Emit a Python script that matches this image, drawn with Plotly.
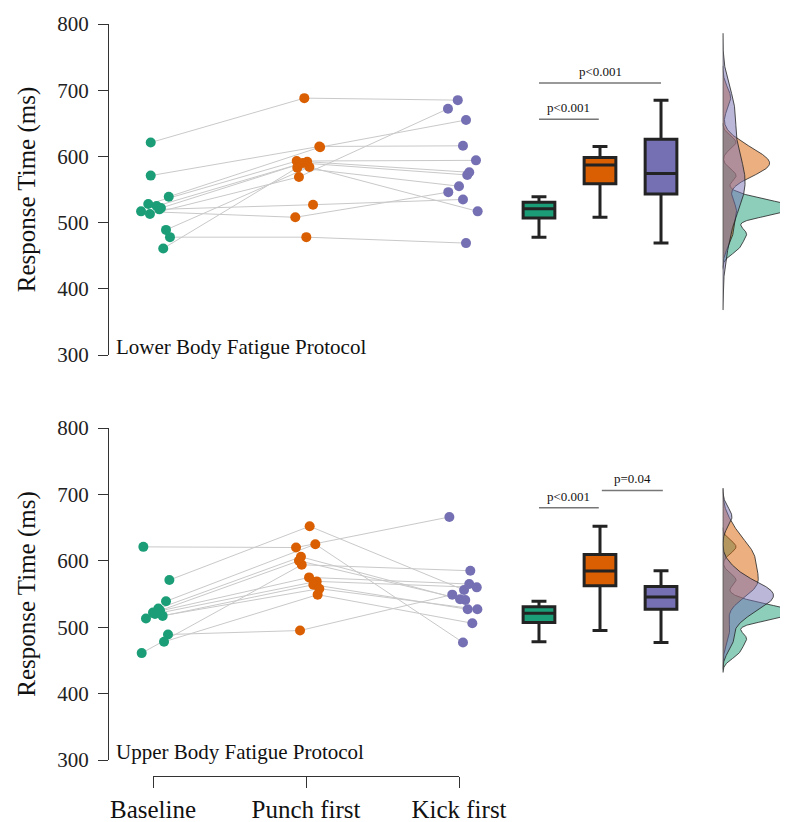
import numpy as np
import plotly.graph_objects as go

# ---------------- data ----------------
conditions = ["Baseline", "Punch first", "Kick first"]
colors = ["#1b9e77", "#d95f02", "#7570b3"]
fills = ["rgba(27,158,119,0.5)", "rgba(217,95,2,0.5)", "rgba(117,112,179,0.5)"]

# Lower body fatigue protocol (one value per participant, same order)
lower_baseline = [621, 571, 539, 528, 525, 522, 520, 517, 513, 489, 478, 461]
lower_punch = [688, 615, 614, 593, 592, 590, 527, 508, 569, 584, 478, 583]
lower_kick = [685, 616, 655, 594, 576, 572, 535, 546, 672, 517, 469, 555]
lower_jit_b = [-0.015, -0.015, 0.103, -0.031, 0.024, 0.052, 0.041, -0.078, -0.020, 0.085, 0.111, 0.067]
lower_jit_p = [-0.011, 0.087, 0.092, -0.061, 0.008, -0.020, 0.046, -0.070, -0.046, 0.022, 0.002, -0.057]
lower_jit_k = [-0.008, 0.026, 0.046, 0.111, 0.067, 0.054, 0.026, -0.070, -0.072, 0.122, 0.046, 0.0]

# Upper body fatigue protocol
upper_baseline = [621, 571, 539, 528, 525, 522, 520, 517, 513, 489, 478, 461]
upper_punch = [620, 652, 625, 606, 600, 575, 569, 564, 558, 495, 549, 594]
upper_kick = [666, 556, 477, 542, 541, 565, 560, 527, 527, 549, 506, 585]
upper_jit_b = [-0.063, 0.107, 0.085, 0.035, 0.046, 0.0, 0.013, 0.063, -0.046, 0.098, 0.072, -0.074]
upper_jit_p = [-0.065, 0.024, 0.061, -0.033, -0.046, 0.020, 0.070, 0.048, 0.087, -0.039, 0.076, -0.028]
upper_jit_k = [-0.063, 0.033, 0.026, 0.007, 0.041, 0.067, 0.116, 0.057, 0.120, -0.044, 0.087, 0.074]

y_ticks = [300, 400, 500, 600, 700, 800]
panel_titles = ["Lower Body Fatigue Protocol", "Upper Body Fatigue Protocol"]
lower_pvals = [("p<0.001", 0, 0.98, 656), ("p<0.001", 0, 2, 711)]
upper_pvals = [("p<0.001", 0, 0.98, 680), ("p=0.04", 1.03, 2.03, 706)]

# ---------------- helpers ----------------
PAGE_OFF = 8            # default body margin of the html page
W, H = 788 - PAGE_OFF, 822 - PAGE_OFF
FONT = "Liberation Serif"


def px_x(p):
    return (p - PAGE_OFF) / W


def px_y(p):
    return (H - (p - PAGE_OFF)) / H


def tukey(vals):
    v = np.sort(np.asarray(vals, float))
    q1, med, q3 = np.percentile(v, [25, 50, 75])
    iqr = q3 - q1
    lo = v[v >= q1 - 1.5 * iqr].min()
    hi = v[v <= q3 + 1.5 * iqr].max()
    return q1, med, q3, lo, hi


def bw_nrd0(vals):
    v = np.asarray(vals, float)
    q1, q3 = np.percentile(v, [25, 75])
    s = min(v.std(ddof=1), (q3 - q1) / 1.34)
    return 0.9 * s * len(v) ** (-0.2)


def kde(vals):
    v = np.asarray(vals, float)
    bw = bw_nrd0(v)
    grid = np.linspace(v.min() - 3 * bw, v.max() + 3 * bw, 512)
    d = np.exp(-0.5 * ((grid[:, None] - v[None, :]) / bw) ** 2).sum(1)
    d /= len(v) * bw * np.sqrt(2 * np.pi)
    return grid, d


fig = go.Figure()

panels = [
    dict(groups=[lower_baseline, lower_punch, lower_kick],
         jit=[lower_jit_b, lower_jit_p, lower_jit_k],
         xs="x", ys="y", xb="x3", xd="x5", pv=lower_pvals),
    dict(groups=[upper_baseline, upper_punch, upper_kick],
         jit=[upper_jit_b, upper_jit_p, upper_jit_k],
         xs="x2", ys="y2", xb="x4", xd="x6", pv=upper_pvals),
]

for P in panels:
    g = P["groups"]
    j = P["jit"]
    # connecting lines
    lx, ly = [], []
    for i in range(len(g[0])):
        for c in range(3):
            lx.append(c + j[c][i])
            ly.append(g[c][i])
        lx.append(None)
        ly.append(None)
    fig.add_trace(go.Scatter(x=lx, y=ly, mode="lines", xaxis=P["xs"], yaxis=P["ys"],
                             line=dict(color="#c9c9c9", width=1), hoverinfo="skip"))
    for c in range(3):
        fig.add_trace(go.Scatter(x=[c + d for d in j[c]], y=g[c], mode="markers",
                                 xaxis=P["xs"], yaxis=P["ys"],
                                 marker=dict(color=colors[c], size=10, line=dict(width=0))))
    # boxes
    for c in range(3):
        q1, med, q3, lo, hi = tukey(g[c])
        fig.add_trace(go.Box(x=[c], q1=[q1], median=[med], q3=[q3], lowerfence=[lo], upperfence=[hi],
                             xaxis=P["xb"], yaxis=P["ys"], width=0.52, whiskerwidth=0.47,
                             fillcolor=colors[c], line=dict(color="#232323", width=3),
                             boxpoints=False))
    # densities
    lo_all, hi_all = [], []
    for c in range(3):
        grid, d = kde(g[c])
        lo_all.append(grid.min())
        hi_all.append(grid.max())
        fig.add_trace(go.Scatter(x=d, y=grid, mode="lines", fill="tozerox", fillcolor=fills[c],
                                 line=dict(color="#222222", width=0.8),
                                 xaxis=P["xd"], yaxis=P["ys"], hoverinfo="skip"))
    fig.add_trace(go.Scatter(x=[0, 0], y=[min(lo_all), max(hi_all)], mode="lines",
                             line=dict(color="#555555", width=1.5),
                             xaxis=P["xd"], yaxis=P["ys"], hoverinfo="skip"))
    # p-value brackets
    for txt, x0, x1, yv in P["pv"]:
        fig.add_shape(type="line", xref=P["xb"], yref=P["ys"], x0=x0, x1=x1, y0=yv, y1=yv,
                      line=dict(color="#777777", width=1.5))
        fig.add_annotation(xref=P["xb"], yref=P["ys"], x=(x0 + x1) / 2, y=yv, text=txt,
                           showarrow=False, yanchor="bottom", yshift=2,
                           font=dict(family=FONT, size=13, color="#111111"))

# dummy trace for the bottom category bracket axis
fig.add_trace(go.Scatter(x=[0, 2], y=[None, None], xaxis="x7", yaxis="y2", mode="markers",
                         hoverinfo="skip"))

# panel labels
for k, ypx in enumerate([347, 752]):
    fig.add_annotation(xref="paper", yref="paper", x=px_x(114), y=px_y(ypx), text=panel_titles[k],
                       showarrow=False, xanchor="left", yanchor="middle",
                       font=dict(family=FONT, size=21, color="#111111"))

xs_dom = [px_x(109), px_x(500)]
xs_rng = [-0.2876, 2.268]
xb_dom = [px_x(500), px_x(700)]
xb_rng = [-0.639, 2.639]
xd_dom = [px_x(722.7), 1.0]
xd_rng = [0, 0.0168]

yaxis_style = dict(range=[300, 800], tickvals=y_ticks, showline=True, linecolor="#333333", linewidth=1.3,
                   ticks="outside", ticklen=10, tickcolor="#333333", tickwidth=1.3,
                   showgrid=False, zeroline=False, automargin=False, ticklabelstandoff=5,
                   tickfont=dict(family=FONT, size=21, color="#222222"),
                   title=dict(text="Response Time (ms)", font=dict(family=FONT, size=25, color="#111111"),
                              standoff=14))
hidden = dict(visible=False, showgrid=False, zeroline=False, automargin=False)

fig.update_layout(
    width=W, height=H, margin=dict(l=0, r=0, t=0, b=0, autoexpand=False),
    paper_bgcolor="white", plot_bgcolor="rgba(0,0,0,0)", showlegend=False,
    xaxis=dict(domain=xs_dom, range=xs_rng, anchor="y", **hidden),
    xaxis2=dict(domain=xs_dom, range=xs_rng, anchor="y2", **hidden),
    xaxis3=dict(domain=xb_dom, range=xb_rng, anchor="y", **hidden),
    xaxis4=dict(domain=xb_dom, range=xb_rng, anchor="y2", **hidden),
    xaxis5=dict(domain=xd_dom, range=xd_rng, anchor="y", **hidden),
    xaxis6=dict(domain=xd_dom, range=xd_rng, anchor="y2", **hidden),
    xaxis7=dict(domain=[px_x(153), px_x(459)], range=[0, 2], anchor="free", position=px_y(776),
                tickvals=[0, 1, 2], ticktext=conditions, showline=True, linecolor="#333333",
                linewidth=1.3, ticks="outside", ticklen=11, tickcolor="#333333", tickwidth=1.3,
                showgrid=False, zeroline=False, automargin=False,
                tickfont=dict(family=FONT, size=25, color="#111111")),
    yaxis=dict(domain=[px_y(355), px_y(24)], anchor="x", **yaxis_style),
    yaxis2=dict(domain=[px_y(760), px_y(428)], anchor="x2", **yaxis_style),
)

fig.write_html("out.html")
